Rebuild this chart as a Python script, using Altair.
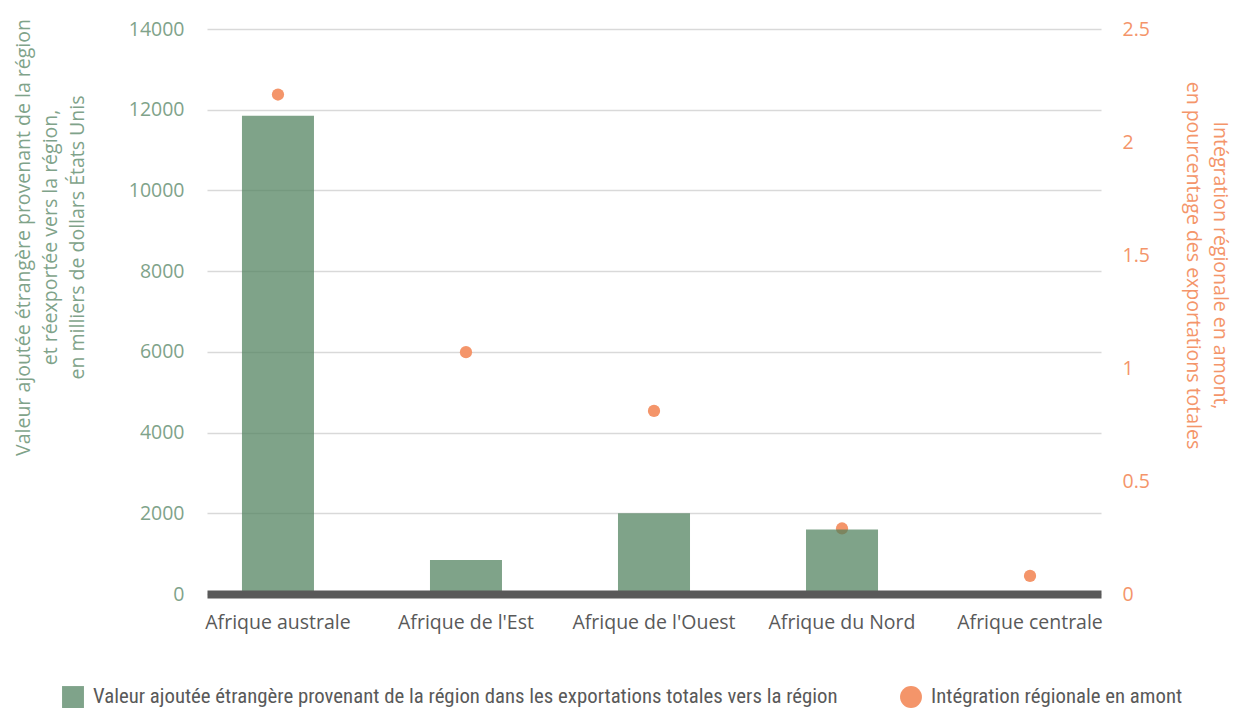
import altair as alt
import pandas as pd

regions = ["Afrique australe", "Afrique de l'Est", "Afrique de l'Ouest", "Afrique du Nord", "Afrique centrale"]
valeur = [11850, 840, 2000, 1600, 40]
integration = [2.21, 1.07, 0.81, 0.29, 0.08]
left_ticks = [0, 2000, 4000, 6000, 8000, 10000, 12000, 14000]
right_ticks = [0, 0.5, 1, 1.5, 2, 2.5]

serie_bar = "Valeur ajoutée étrangère provenant de la région dans les exportations totales vers la région"
serie_pt = "Intégration régionale en amont"

df = pd.DataFrame({"region": regions, "valeur": valeur, "integration": integration, "serie": serie_pt})

GREEN_TXT = "#7fa38a"
GREEN_BAR = "#4d7f5c"
ORANGE = "#f4956a"
GRAY = "#595959"
FONT = "Open Sans"
LEG_FONT = "Liberation Sans Narrow, Roboto Condensed, DejaVu Sans Condensed"

x_enc = alt.X(
    "region:N", sort=regions,
    scale=alt.Scale(paddingInner=0.617, paddingOuter=0.186),
    axis=alt.Axis(title=None, labelAngle=0, labelColor=GRAY, labelFontSize=19.5, labelFont=FONT,
                  labelPadding=19, ticks=False, domainColor=GRAY, domainWidth=8, zindex=1),
)

legend = alt.Legend(
    title=None, orient="none", legendX=-145, legendY=657, direction="horizontal", columns=2,
    symbolSize=480, symbolStrokeWidth=0, labelFont=LEG_FONT, labelFontSize=20.8, labelColor=GRAY,
    labelLimit=1200, columnPadding=62, labelOffset=9, symbolOpacity=1,
)

points = alt.Chart(df).mark_point(filled=True, size=150, opacity=1).encode(
    x=x_enc,
    y=alt.Y(
        "integration:Q", scale=alt.Scale(domain=[0, 2.5]),
        axis=alt.Axis(orient="right", values=right_ticks, format="~g", grid=False, ticks=False, domain=False,
                      labelColor=ORANGE, labelFontSize=19.5, labelFont=FONT, labelPadding=21,
                      title=["Intégration régionale en amont,", "en pourcentage des exportations totales"],
                      titleColor=ORANGE, titleFontSize=19.5, titleFont=FONT, titleFontWeight="normal",
                      titleLineHeight=27, titleY=236, titlePadding=33),
    ),
    color=alt.Color("serie:N", scale=alt.Scale(domain=[serie_bar, serie_pt], range=[GREEN_TXT, ORANGE]), legend=legend),
    shape=alt.Shape("serie:N", scale=alt.Scale(domain=[serie_bar, serie_pt], range=["square", "circle"]), legend=legend),
)

bars = alt.Chart(df).mark_bar(color=GREEN_BAR, opacity=0.72).encode(
    x=x_enc,
    y=alt.Y(
        "valeur:Q", scale=alt.Scale(domain=[0, 14000]),
        axis=alt.Axis(orient="left", values=left_ticks, format="d", grid=True, gridColor="#d9d9d9", gridWidth=1.5,
                      ticks=False, domain=False, labelColor=GREEN_TXT, labelFontSize=19.5, labelFont=FONT,
                      labelPadding=23,
                      title=["Valeur ajoutée étrangère provenant de la région",
                             "et réexportée vers la région,",
                             "en milliers de dollars États Unis"],
                      titleColor=GREEN_TXT, titleFontSize=19.5, titleFont=FONT, titleFontWeight="normal",
                      titleLineHeight=27, titleY=208, titlePadding=41),
    ),
)

chart = alt.layer(points, bars).resolve_scale(y="independent").properties(
    width=894, height=565,
    padding={"left": 199, "top": 21, "right": 136, "bottom": 122},
    autosize=alt.AutoSizeParams(type="none"),
).configure_view(stroke=None)

chart.save("out.html", embed_options={"renderer": "svg", "actions": False})
